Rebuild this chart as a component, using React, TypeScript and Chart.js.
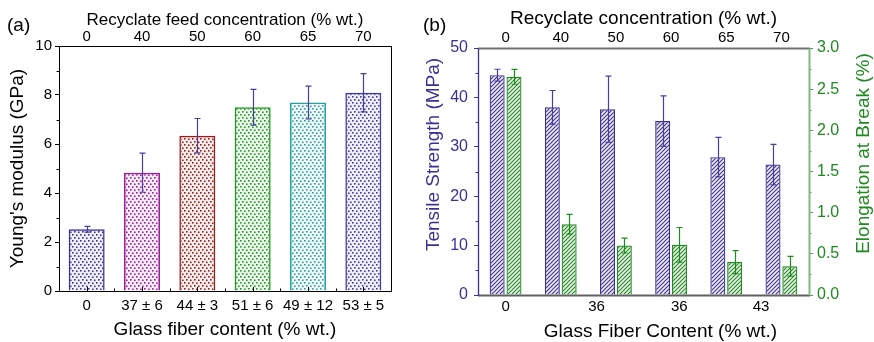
import { useEffect, useRef } from 'react';
import { Chart, registerables } from 'chart.js';

Chart.register(...registerables);

const FONT = '"Liberation Sans", Arial, Helvetica, sans-serif';

// ---------- Panel (a) data ----------
const fiberContentLabels = ['0', '37 ± 6', '44 ± 3', '51 ± 6', '49 ± 12', '53 ± 5'];
const feedConcentrationLabels = ['0', '40', '50', '60', '65', '70'];
const youngsModulus = [2.52, 4.83, 6.34, 7.5, 7.69, 8.09];
const youngsModulusErr = [0.12, 0.8, 0.7, 0.73, 0.67, 0.78];
const barColorsA = ['#3a32a0', '#a01a9c', '#9c1c1c', '#1f9a1f', '#2aa0a0', '#3d3aaa'];

// ---------- Panel (b) data ----------
const recyclateLabels = ['0', '40', '50', '60', '65', '70'];
const tensileStrength = [44.5, 38.0, 37.6, 35.2, 27.9, 26.4];
const tensileStrengthErr = [1.2, 3.4, 6.7, 5.1, 4.0, 4.1];
const elongationAtBreak = [2.65, 0.86, 0.6, 0.61, 0.4, 0.35];
const elongationAtBreakErr = [0.09, 0.12, 0.09, 0.21, 0.14, 0.12];
const glassFiberTickLabels = ['0', '36', '36', '43'];
const glassFiberTickPos = [0, 1.65, 3.15, 4.63];

const PURPLE = '#3b2f94';
const GREEN = '#1f8a1f';

function hexToRgba(hex: string, a: number) {
  const n = parseInt(hex.slice(1), 16);
  return `rgba(${(n >> 16) & 255},${(n >> 8) & 255},${n & 255},${a})`;
}

function makeDots(color: string): CanvasPattern | string {
  const c = document.createElement('canvas');
  c.width = 8;
  c.height = 6;
  const g = c.getContext('2d');
  if (!g) return color;
  g.fillStyle = hexToRgba(color, 0.07);
  g.fillRect(0, 0, 8, 6);
  g.fillStyle = color;
  const pts = [[0, 0], [4, 0.5], [2, 3], [6, 3.5]];
  pts.forEach(([x, y]) => g.fillRect(x, y, 1.6, 1.6));
  const p = g.createPattern(c, 'repeat');
  return p || color;
}

function makeHatch(color: string): CanvasPattern | string {
  const c = document.createElement('canvas');
  c.width = 4;
  c.height = 4;
  const g = c.getContext('2d');
  if (!g) return color;
  g.fillStyle = hexToRgba(color, 0.08);
  g.fillRect(0, 0, 4, 4);
  g.strokeStyle = color;
  g.lineWidth = 1.1;
  g.beginPath();
  g.moveTo(-1, 5); g.lineTo(5, -1);
  g.moveTo(-1, 1); g.lineTo(1, -1);
  g.moveTo(3, 5); g.lineTo(5, 3);
  g.stroke();
  const p = g.createPattern(c, 'repeat');
  return p || color;
}

const errorBarPlugin = {
  id: 'errorBars',
  afterDatasetsDraw(chart: any) {
    const ctx = chart.ctx;
    chart.data.datasets.forEach((ds: any, i: number) => {
      const errs: number[] | undefined = ds.errors;
      if (!errs) return;
      const meta = chart.getDatasetMeta(i);
      const ys = chart.scales[meta.yAxisID];
      ctx.save();
      ctx.lineWidth = 1.2;
      meta.data.forEach((el: any, j: number) => {
        const v = ds.data[j];
        const e = errs[j];
        ctx.strokeStyle = ds.errorColor;
        const x = Math.round(el.x) + 0.5;
        const y1 = ys.getPixelForValue(v + e);
        const y2 = ys.getPixelForValue(v - e);
        const cap = ds.errorCap || 3;
        ctx.beginPath();
        ctx.moveTo(x, y1); ctx.lineTo(x, y2);
        ctx.moveTo(x - cap, y1); ctx.lineTo(x + cap, y1);
        ctx.moveTo(x - cap, y2); ctx.lineTo(x + cap, y2);
        ctx.stroke();
      });
      ctx.restore();
    });
  },
};

const decorPlugin = {
  id: 'decor',
  afterDraw(chart: any, _args: any, opts: any) {
    const ctx = chart.ctx;
    const a = chart.chartArea;
    ctx.save();
    // minor ticks
    (opts.minor || []).forEach((m: any) => {
      const s = chart.scales[m.axis];
      ctx.strokeStyle = m.color;
      ctx.lineWidth = 1;
      ctx.beginPath();
      for (let v = s.min; v <= s.max + 1e-9; v += m.step) {
        const y = Math.round(s.getPixelForValue(v)) + 0.5;
        const isMajor = Math.abs(v / m.majorStep - Math.round(v / m.majorStep)) < 1e-6;
        if (isMajor) continue;
        if (m.side === 'left') { ctx.moveTo(a.left, y); ctx.lineTo(a.left - m.len, y); }
        else { ctx.moveTo(a.right, y); ctx.lineTo(a.right + m.len, y); }
      }
      ctx.stroke();
    });
    // inward bottom ticks on category axis
    if (opts.bottomTicks) {
      const s = chart.scales[opts.bottomTicks.axis];
      ctx.strokeStyle = opts.bottomTicks.color;
      ctx.lineWidth = 1;
      ctx.beginPath();
      const n = s.getLabels().length;
      for (let i = 0; i < n; i++) {
        const x = Math.round(s.getPixelForValue(i)) + 0.5;
        ctx.moveTo(x, a.bottom); ctx.lineTo(x, a.bottom - 4);
        if (i < n - 1) {
          const xb = Math.round(s.getPixelForValue(i + 0.5)) + 0.5;
          ctx.moveTo(xb, a.bottom); ctx.lineTo(xb, a.bottom - 2.5);
        }
      }
      ctx.stroke();
    }
    // frame
    const f = opts.frame;
    if (f) {
      const line = (spec: any, x1: number, y1: number, x2: number, y2: number) => {
        ctx.strokeStyle = spec.color;
        ctx.lineWidth = spec.width;
        ctx.beginPath(); ctx.moveTo(x1, y1); ctx.lineTo(x2, y2); ctx.stroke();
      };
      const L = Math.round(a.left) + 0.5, R = Math.round(a.right) + 0.5;
      const T = Math.round(a.top) + 0.5, B = Math.round(a.bottom) + 0.5;
      line(f.top, L - 0.5, T, R + 0.5, T);
      line(f.bottom, L - 0.5, B, R + 0.5, B);
      line(f.left, L, T, L, B);
      line(f.right, R, T, R, B);
    }
    // extra tick labels placed through the category scale
    if (opts.extraTicks) {
      const t = opts.extraTicks;
      const s = chart.scales[t.axis];
      ctx.font = `${t.size}px ${FONT}`;
      ctx.fillStyle = t.color;
      ctx.textAlign = 'center';
      ctx.textBaseline = 'middle';
      t.positions.forEach((p: number, i: number) => {
        ctx.fillText(t.labels[i], s.getPixelForValue(p), a.bottom + t.dy);
      });
    }
    // free titles
    (opts.texts || []).forEach((t: any) => {
      ctx.save();
      ctx.font = `${t.size}px ${FONT}`;
      ctx.fillStyle = t.color;
      ctx.textAlign = 'center';
      ctx.textBaseline = 'middle';
      ctx.translate(t.fx(a), t.fy(a));
      if (t.rotate) ctx.rotate(-Math.PI / 2);
      ctx.fillText(t.text, 0, 0);
      ctx.restore();
    });
    ctx.restore();
  },
};

function PanelA() {
  const ref = useRef<HTMLCanvasElement>(null);
  useEffect(() => {
    if (!ref.current) return;
    const chart = new Chart(ref.current, {
      type: 'bar',
      data: {
        labels: fiberContentLabels,
        datasets: [
          {
            data: youngsModulus,
            backgroundColor: barColorsA.map((c) => makeDots(c)) as any,
            borderColor: barColorsA,
            borderWidth: 1.5,
            barPercentage: 0.65,
            categoryPercentage: 1,
            errors: youngsModulusErr,
            errorColor: '#4a3d9c',
            errorCap: 3,
          } as any,
        ],
      },
      options: {
        responsive: false,
        animation: false,
        devicePixelRatio: 1,
        layout: { padding: { left: 0, right: 19, top: 0, bottom: 0 } },
        plugins: {
          legend: { display: false },
          tooltip: { enabled: false },
          decor: {
            minor: [{ axis: 'y', step: 1, majorStep: 2, len: 2.5, color: '#000', side: 'left' }],
            bottomTicks: { axis: 'x', color: '#000' },
            frame: {
              top: { color: '#000', width: 1 },
              bottom: { color: '#000', width: 1 },
              left: { color: '#000', width: 1 },
              right: { color: '#000', width: 1 },
            },
          },
        },
        scales: {
          x: {
            type: 'category',
            position: 'bottom',
            offset: true,
            grid: { display: false, drawTicks: false },
            border: { display: false },
            ticks: { font: { family: FONT, size: 15 }, color: '#000', padding: 6, maxRotation: 0, autoSkip: false },
            title: {
              display: true,
              text: 'Glass fiber content (% wt.)',
              font: { family: FONT, size: 19 },
              color: '#000',
              padding: { top: 0, bottom: 1 },
            },
            afterFit: (s: any) => { s.height = 51; },
          },
          xTop: {
            type: 'category',
            position: 'top',
            labels: feedConcentrationLabels,
            offset: true,
            grid: { display: false, drawTicks: false },
            border: { display: false },
            ticks: { font: { family: FONT, size: 15 }, color: '#000', padding: 0, maxRotation: 0, autoSkip: false },
            title: {
              display: true,
              text: 'Recyclate feed concentration (% wt.)',
              font: { family: FONT, size: 17 },
              color: '#000',
              padding: { top: 10, bottom: 0 },
            },
            afterFit: (s: any) => { s.height = 46; },
          },
          y: {
            type: 'linear',
            min: 0,
            max: 10,
            ticks: { stepSize: 2, font: { family: FONT, size: 15 }, color: '#000', padding: 3 },
            grid: { display: true, drawOnChartArea: false, drawTicks: true, tickLength: 4, color: '#000' },
            border: { display: false },
            title: {
              display: true,
              text: "Young's modulus (GPa)",
              font: { family: FONT, size: 19 },
              color: '#000',
              padding: { top: 6, bottom: 0 },
            },
            afterFit: (s: any) => { s.width = 59; },
          },
        },
      } as any,
      plugins: [errorBarPlugin, decorPlugin],
    });
    return () => chart.destroy();
  }, []);
  return (
    <canvas
      ref={ref}
      width={410}
      height={342}
      style={{ position: 'absolute', left: 0, top: 0, width: 410, height: 342 }}
    />
  );
}

function PanelB() {
  const ref = useRef<HTMLCanvasElement>(null);
  useEffect(() => {
    if (!ref.current) return;
    const chart = new Chart(ref.current, {
      type: 'bar',
      data: {
        labels: recyclateLabels,
        datasets: [
          {
            data: tensileStrength,
            yAxisID: 'y',
            backgroundColor: makeHatch(PURPLE) as any,
            borderColor: PURPLE,
            borderWidth: 1.2,
            barPercentage: 0.89,
            categoryPercentage: 0.61,
            errors: tensileStrengthErr,
            errorColor: '#4a3d9c',
            errorCap: 3,
          } as any,
          {
            data: elongationAtBreak,
            yAxisID: 'y2',
            backgroundColor: makeHatch(GREEN) as any,
            borderColor: GREEN,
            borderWidth: 1.2,
            barPercentage: 0.89,
            categoryPercentage: 0.61,
            errors: elongationAtBreakErr,
            errorColor: GREEN,
            errorCap: 3,
          } as any,
        ],
      },
      options: {
        responsive: false,
        animation: false,
        devicePixelRatio: 1,
        layout: { padding: { left: 0, right: 0, top: 0, bottom: 47 } },
        plugins: {
          legend: { display: false },
          tooltip: { enabled: false },
          decor: {
            minor: [
              { axis: 'y', step: 5, majorStep: 10, len: 2.5, color: PURPLE, side: 'left' },
              { axis: 'y2', step: 0.25, majorStep: 0.5, len: 2.5, color: '#4a9a4a', side: 'right' },
            ],
            frame: {
              top: { color: '#707070', width: 2 },
              bottom: { color: '#606060', width: 2 },
              left: { color: PURPLE, width: 1.3 },
              right: { color: '#7dbb7d', width: 2 },
            },
            extraTicks: {
              axis: 'x',
              positions: glassFiberTickPos,
              labels: glassFiberTickLabels,
              size: 15,
              color: '#000',
              dy: 12,
            },
            texts: [
              { text: 'Tensile Strength (MPa)', size: 19, color: PURPLE, rotate: true, fx: (a: any) => a.left - 44, fy: (a: any) => (a.top + a.bottom) / 2 - 17 },
              { text: 'Elongation at Break (%)', size: 19, color: GREEN, rotate: true, fx: (a: any) => a.right + 55, fy: (a: any) => (a.top + a.bottom) / 2 - 18 },
              { text: 'Glass Fiber Content (% wt.)', size: 19, color: '#000', rotate: false, fx: (a: any) => (a.left + a.right) / 2 + 17, fy: () => 332 },
            ],
          },
        },
        scales: {
          x: {
            type: 'category',
            position: 'top',
            offset: true,
            grid: { display: false, drawTicks: false },
            border: { display: false },
            ticks: { font: { family: FONT, size: 15 }, color: '#000', padding: 1, maxRotation: 0, autoSkip: false },
            title: {
              display: true,
              text: 'Recyclate concentration (% wt.)',
              font: { family: FONT, size: 19 },
              color: '#000',
              padding: { top: 7, bottom: 0 },
            },
            afterFit: (s: any) => { s.height = 48; },
          },
          y: {
            type: 'linear',
            position: 'left',
            min: 0,
            max: 50,
            ticks: { stepSize: 10, font: { family: FONT, size: 16 }, color: PURPLE, padding: 6 },
            grid: { display: true, drawOnChartArea: false, drawTicks: true, tickLength: 4, color: PURPLE },
            border: { display: false },
            title: { display: false },
            afterFit: (s: any) => { s.width = 68; },
          },
          y2: {
            type: 'linear',
            position: 'right',
            min: 0,
            max: 3,
            ticks: {
              stepSize: 0.5,
              font: { family: FONT, size: 16 },
              color: GREEN,
              padding: 4,
              callback: (v: any) => Number(v).toFixed(1),
            },
            grid: { display: true, drawOnChartArea: false, drawTicks: true, tickLength: 4, color: '#4a9a4a' },
            border: { display: false },
            title: { display: false },
            afterFit: (s: any) => { s.width = 65; },
          },
        },
      } as any,
      plugins: [errorBarPlugin, decorPlugin],
    });
    return () => chart.destroy();
  }, []);
  return (
    <canvas
      ref={ref}
      width={464}
      height={342}
      style={{ position: 'absolute', left: 410, top: 0, width: 464, height: 342 }}
    />
  );
}

export default function App() {
  const labelStyle: any = {
    position: 'absolute',
    top: 14,
    fontFamily: FONT,
    fontSize: 19,
    lineHeight: '22px',
    color: '#000',
    margin: 0,
  };
  return (
    <div style={{ position: 'absolute', left: 0, top: 0, width: 874, height: 342, background: '#fff', overflow: 'hidden' }}>
      <PanelA />
      <PanelB />
      <div style={{ ...labelStyle, left: 7 }}>(a)</div>
      <div style={{ ...labelStyle, left: 423 }}>(b)</div>
    </div>
  );
}
